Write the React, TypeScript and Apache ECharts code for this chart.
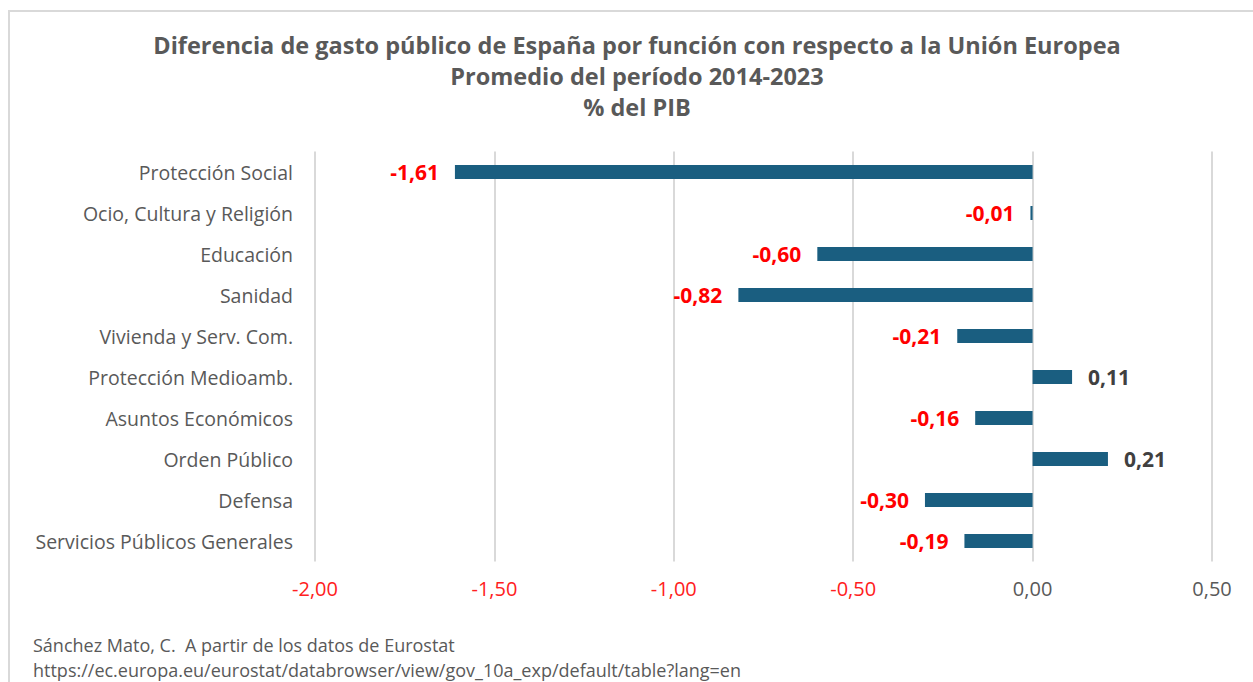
import React, { useEffect, useRef } from "react";
import * as echarts from "echarts";

const categories = [
  "Protección Social",
  "Ocio, Cultura y Religión",
  "Educación",
  "Sanidad",
  "Vivienda y Serv. Com.",
  "Protección Medioamb.",
  "Asuntos Económicos",
  "Orden Público",
  "Defensa",
  "Servicios Públicos Generales",
];
const values = [-1.61, -0.006, -0.6, -0.82, -0.21, 0.11, -0.16, 0.21, -0.3, -0.19];
const titleLines = [
  "Diferencia de gasto público de España por función con respecto a la Unión Europea",
  "Promedio del período 2014-2023",
  "% del PIB",
];
const footerLines = [
  "Sánchez Mato, C.  A partir de los datos de Eurostat",
  "https://ec.europa.eu/eurostat/databrowser/view/gov_10a_exp/default/table?lang=en",
];

const FONT = "'Open Sans', 'Liberation Sans', Arial, sans-serif";
const fmt = (v: number) => v.toFixed(2).replace(".", ",");

export default function App() {
  const ref = useRef<HTMLDivElement>(null);
  useEffect(() => {
    if (!ref.current) return;
    const chart = echarts.init(ref.current, null, { renderer: "svg" });
    const data = values.map((v) => ({
      value: v,
      label: {
        position: v < 0 ? "left" : "right",
        color: v < 0 ? "#ff0000" : "#404040",
      },
    }));
    chart.setOption({
      animation: false,
      backgroundColor: "#ffffff",
      textStyle: { fontFamily: FONT },
      grid: { left: 315, right: 41, top: 151.5, bottom: 120.5, containLabel: false },
      xAxis: {
        type: "value",
        min: -2,
        max: 0.5,
        interval: 0.5,
        axisLine: { show: false },
        axisTick: { show: false },
        splitLine: { show: true, lineStyle: { color: "#d9d9d9", width: 2 } },
        axisLabel: {
          margin: 17,
          formatter: (v: number) => (v < 0 ? `{n|${fmt(v)}}` : `{p|${fmt(v)}}`),
          rich: {
            n: { color: "#ff2020", fontSize: 20, fontFamily: FONT },
            p: { color: "#595959", fontSize: 20, fontFamily: FONT },
          },
        },
      },
      yAxis: {
        type: "category",
        data: categories,
        inverse: true,
        axisLine: { show: false },
        axisTick: { show: false },
        axisLabel: { color: "#595959", fontSize: 19.5, margin: 22, fontFamily: FONT },
      },
      series: [
        {
          type: "bar",
          data,
          barWidth: 14,
          itemStyle: { color: "#1a5e80" },
          label: {
            show: true,
            fontSize: 21,
            fontWeight: "bold",
            distance: 16,
            fontFamily: FONT,
            formatter: (p: any) => fmt(p.value),
          },
        },
      ],
      graphic: [
        {
          type: "rect",
          shape: { x: 9, y: 11, width: 1300, height: 720 },
          style: { fill: "none", stroke: "#d9d9d9", lineWidth: 2 },
          silent: true,
        },
        ...titleLines.map((t, i) => ({
          type: "text",
          x: 637,
          y: 45 + i * 31,
          style: {
            text: t,
            textAlign: "center",
            textVerticalAlign: "middle",
            fill: "#595959",
            font: `bold 23.5px ${FONT}`,
          },
        })),
        ...footerLines.map((t, i) => ({
          type: "text",
          x: 33,
          y: 645 + i * 25,
          style: {
            text: t,
            textAlign: "left",
            textVerticalAlign: "middle",
            fill: "#595959",
            font: `18px ${FONT}`,
          },
        })),
      ],
    });
    return () => chart.dispose();
  }, []);
  return (
    <div
      ref={ref}
      style={{ position: "fixed", left: 0, top: 0, width: 1253, height: 682 }}
    />
  );
}
